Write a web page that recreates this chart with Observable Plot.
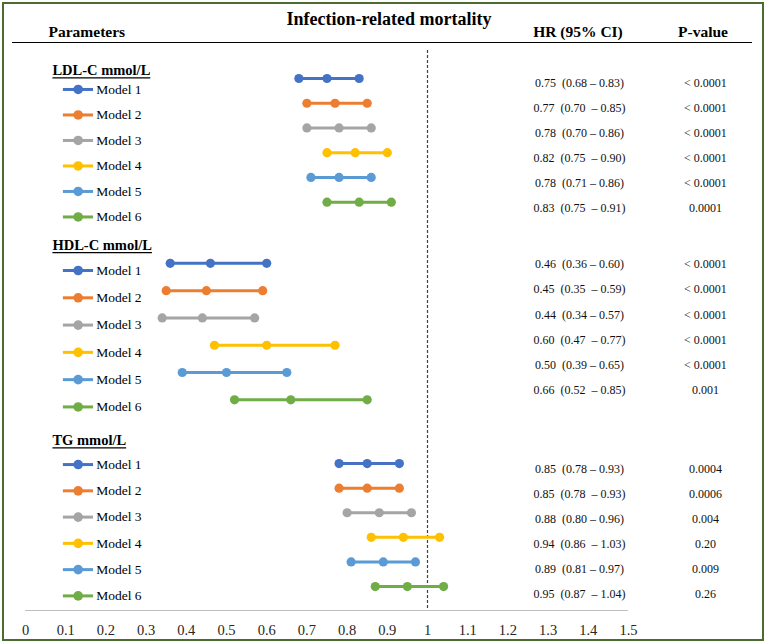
<!DOCTYPE html>
<html>
<head>
<meta charset="utf-8">
<script src="https://cdn.jsdelivr.net/npm/d3@7"></script>
<script src="https://cdn.jsdelivr.net/npm/@observablehq/plot@0.6"></script>
<style>
  body { margin: 0; background: #fff; }
  #wrap { position: relative; width: 766px; height: 643px; overflow: hidden; background: #fff; font-family: "Liberation Serif", "Times New Roman", serif; color: #000; }
  #wrap svg { position: absolute; left: 0; top: 0; }
  .hdr { position: absolute; white-space: nowrap; line-height: 1; font-weight: bold; }
  .ctr { transform: translateX(-50%); }
  #border { position: absolute; left: 2px; top: 2px; width: 762px; height: 639px; box-sizing: border-box; border: 2px solid #4b6b33; pointer-events: none; }
  #rule { position: absolute; left: 12px; top: 41.5px; width: 740px; height: 1.5px; background: #000; }
  g[aria-label="hr-text"] text, g[aria-label="p-text"] text { white-space: pre; }
</style>
</head>
<body>
<div id="wrap">
  <div class="hdr ctr" style="left:389px; top:9.9px; font-size:18px;">Infection-related mortality</div>
  <div class="hdr" style="left:48.5px; top:24.3px; font-size:15.5px;">Parameters</div>
  <div class="hdr ctr" style="left:578px; top:24.3px; font-size:15.5px;">HR (95% CI)</div>
  <div class="hdr ctr" style="left:703px; top:24.3px; font-size:15.5px;">P-value</div>
  <div id="rule"></div>
  <div id="border"></div>
</div>
<script>
// ---------- data ----------
const sections = ["LDL-C mmol/L", "HDL-C mmol/L", "TG mmol/L"];
const models = ["Model 1", "Model 2", "Model 3", "Model 4", "Model 5", "Model 6"];
const modelColors = ["#4472C4", "#ED7D31", "#A5A5A5", "#FFC000", "#5B9BD5", "#70AD47"];

const ldlHR = [0.75, 0.77, 0.78, 0.82, 0.78, 0.83];
const ldlLo = [0.68, 0.70, 0.70, 0.75, 0.71, 0.75];
const ldlHi = [0.83, 0.85, 0.86, 0.90, 0.86, 0.91];
const ldlP  = ["< 0.0001", "< 0.0001", "< 0.0001", "< 0.0001", "< 0.0001", "0.0001"];

const hdlHR = [0.46, 0.45, 0.44, 0.60, 0.50, 0.66];
const hdlLo = [0.36, 0.35, 0.34, 0.47, 0.39, 0.52];
const hdlHi = [0.60, 0.59, 0.57, 0.77, 0.65, 0.85];
const hdlP  = ["< 0.0001", "< 0.0001", "< 0.0001", "< 0.0001", "< 0.0001", "0.001"];

const tgHR = [0.85, 0.85, 0.88, 0.94, 0.89, 0.95];
const tgLo = [0.78, 0.78, 0.80, 0.86, 0.81, 0.87];
const tgHi = [0.93, 0.93, 0.96, 1.03, 0.97, 1.04];
const tgP  = ["0.0004", "0.0006", "0.004", "0.20", "0.009", "0.26"];

const xTicks = [0, 0.1, 0.2, 0.3, 0.4, 0.5, 0.6, 0.7, 0.8, 0.9, 1, 1.1, 1.2, 1.3, 1.4, 1.5];
const xTickLabels = ["0", "0.1", "0.2", "0.3", "0.4", "0.5", "0.6", "0.7", "0.8", "0.9", "1", "1.1", "1.2", "1.3", "1.4", "1.5"];
const refLine = [1];

// ---------- layout (row units) ----------
const layout = [
  {head: 0.69, dot0: 1.0,  dotStep: 0.97,  text0: 1.2,   textStep: 0.98, leg0: 1.43,  legStep: 1.0},
  {head: 7.55, dot0: 8.25, dotStep: 1.07,  text0: 8.29,  textStep: 0.99, leg0: 8.53,  legStep: 1.07},
  {head: 15.2, dot0: 16.1, dotStep: 0.965, text0: 16.33, textStep: 0.98, leg0: 16.14, legStep: 1.03}
];
const Y_MIN = -0.098, Y_MAX = 21.863;
const LEG_X1 = 0.093, LEG_X2 = 0.168, LEG_DOT = 0.131, LEG_TEXT = 0.176;
const HEAD_X = 0.067, HR_X = 1.378, P_X = 1.6915;
const W = 766, H = 643, ML = 25, MR = 138, MT = 50, MB = 33;
const pxPerX = (W - ML - MR) / 1.5;
const pxPerRow = (H - MT - MB) / (Y_MAX - Y_MIN);
const HEAD_FONT = 14.5;

// measure heading widths for underline
const ctx = document.createElement("canvas").getContext("2d");
ctx.font = `bold ${HEAD_FONT}px "Liberation Serif"`;

const sectionData = [
  {hr: ldlHR, lo: ldlLo, hi: ldlHi, p: ldlP},
  {hr: hdlHR, lo: hdlLo, hi: hdlHi, p: hdlP},
  {hr: tgHR,  lo: tgLo,  hi: tgHi,  p: tgP}
];
const fmt = d3.format(".2f");
const rows = [];
const heads = [];
sectionData.forEach((s, si) => {
  const L = layout[si];
  const w = ctx.measureText(sections[si]).width;
  heads.push({name: sections[si], y: L.head, x2: HEAD_X + w / pxPerX, yLine: L.head + 7.2 / pxPerRow});
  models.forEach((m, i) => {
    const gap = i % 2 === 1 ? "  – " : " – ";
    rows.push({
      section: sections[si], model: m,
      hr: s.hr[i], lo: s.lo[i], hi: s.hi[i], p: s.p[i],
      label: `${fmt(s.hr[i])}  (${fmt(s.lo[i])}${gap}${fmt(s.hi[i])})`,
      yDot: L.dot0 + i * L.dotStep,
      yText: L.text0 + i * L.textStep,
      yLeg: L.leg0 + i * L.legStep
    });
  });
});
const pts = rows.flatMap(r => [r.lo, r.hr, r.hi].map(v => ({model: r.model, x: v, y: r.yDot})));

const chart = Plot.plot({
  width: W, height: H,
  marginTop: MT, marginBottom: MB, marginLeft: ML, marginRight: MR,
  style: {fontFamily: "Liberation Serif, Times New Roman, serif", fontSize: "14px", background: "transparent", color: "#000"},
  x: {domain: [0, 1.5], axis: null},
  y: {domain: [Y_MIN, Y_MAX], reverse: true, axis: null},
  color: {domain: models, range: modelColors},
  marks: [
    Plot.ruleY([Y_MAX], {stroke: "#bfbfbf", strokeWidth: 1.2}),
    Plot.axisX(xTicks, {anchor: "bottom", tickSize: 0, tickPadding: 14, fontSize: 14.5, fill: "#262626",
      tickFormat: (d) => xTickLabels[xTicks.indexOf(d)]}),
    Plot.ruleX(refLine, {stroke: "#404040", strokeWidth: 1.2, strokeDasharray: "3,2"}),
    // forest rows
    Plot.link(rows, {x1: "lo", x2: "hi", y1: "yDot", y2: "yDot", stroke: "model", strokeWidth: 3}),
    Plot.dot(pts, {x: "x", y: "y", fill: "model", r: 4.6, stroke: "none"}),
    // legend entries
    Plot.link(rows, {x1: () => LEG_X1, x2: () => LEG_X2, y1: "yLeg", y2: "yLeg", stroke: "model", strokeWidth: 3}),
    Plot.dot(rows, {x: () => LEG_DOT, y: "yLeg", fill: "model", r: 4.8, stroke: "none"}),
    Plot.text(rows, {x: () => LEG_TEXT, y: "yLeg", text: "model", textAnchor: "start", fontSize: 13.5, fill: "#000"}),
    // section headings (underlined)
    Plot.text(heads, {x: () => HEAD_X, y: "y", text: "name", textAnchor: "start", fontSize: HEAD_FONT, fontWeight: "bold", fill: "#000"}),
    Plot.link(heads, {x1: () => HEAD_X, x2: "x2", y1: "yLine", y2: "yLine", stroke: "#000", strokeWidth: 1.3}),
    // table columns
    Plot.text(rows, {x: () => HR_X, y: "yText", text: "label", textAnchor: "middle", fontSize: 12, fill: "#111", ariaLabel: "hr-text"}),
    Plot.text(rows, {x: () => P_X, y: "yText", text: "p", textAnchor: "middle", fontSize: 12, fill: "#111", ariaLabel: "p-text"})
  ]
});
chart.querySelectorAll('g[aria-label="hr-text"] text, g[aria-label="p-text"] text').forEach(t => t.style.whiteSpace = "pre");
const wrap = document.getElementById("wrap");
wrap.insertBefore(chart, wrap.firstChild);
</script>
</body>
</html>
